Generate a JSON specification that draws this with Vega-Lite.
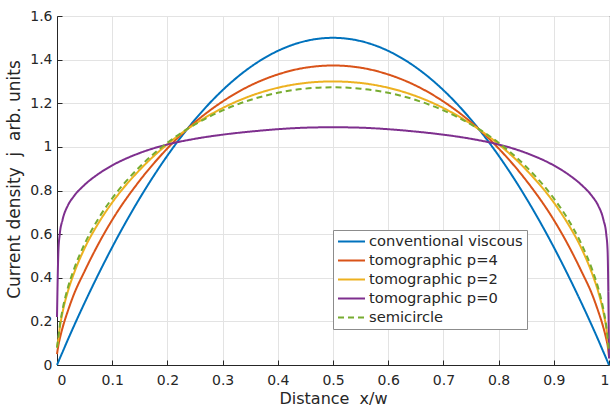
{
  "$schema": "https://vega.github.io/schema/vega-lite/v6.json",
  "width": 552,
  "height": 349,
  "autosize": {"type": "none"},
  "padding": {"left": 57, "top": 16, "right": 2, "bottom": 44},
  "background": "white",
  "config": {
    "font": "DejaVu Sans",
    "view": {"stroke": "#262626", "strokeWidth": 1},
    "axis": {
      "domainColor": "#262626",
      "gridColor": "#e3e3e3",
      "tickColor": "#262626",
      "tickSize": -5,
      "labelColor": "#262626",
      "labelFontSize": 14,
      "titleColor": "#262626",
      "titleFontSize": 16,
      "titleFontWeight": "normal"
    }
  },
  "data": {
    "values": [
      {"x": 0, "a": 0, "b": 0.05, "c": 0.08, "d": 0.22, "e": 0.08},
      {"x": 0.0025, "a": 0.015, "b": 0.09, "c": 0.12, "d": 0.52, "e": 0.127},
      {"x": 0.005, "a": 0.03, "b": 0.12, "c": 0.17, "d": 0.6, "e": 0.18},
      {"x": 0.01, "a": 0.059, "b": 0.17, "c": 0.24, "d": 0.665, "e": 0.253},
      {"x": 0.02, "a": 0.118, "b": 0.25, "c": 0.34, "d": 0.733, "e": 0.357},
      {"x": 0.03, "a": 0.175, "b": 0.32, "c": 0.415, "d": 0.772, "e": 0.434},
      {"x": 0.05, "a": 0.285, "b": 0.43, "c": 0.535, "d": 0.826, "e": 0.555},
      {"x": 0.075, "a": 0.416, "b": 0.555, "c": 0.65, "d": 0.876, "e": 0.671},
      {"x": 0.1, "a": 0.54, "b": 0.665, "c": 0.745, "d": 0.915, "e": 0.764},
      {"x": 0.15, "a": 0.765, "b": 0.846, "c": 0.895, "d": 0.972, "e": 0.909},
      {"x": 0.2, "a": 0.96, "b": 0.993, "c": 1.012, "d": 1.011, "e": 1.019},
      {"x": 0.25, "a": 1.125, "b": 1.113, "c": 1.105, "d": 1.037, "e": 1.103},
      {"x": 0.3, "a": 1.26, "b": 1.208, "c": 1.178, "d": 1.056, "e": 1.167},
      {"x": 0.35, "a": 1.365, "b": 1.281, "c": 1.233, "d": 1.07, "e": 1.215},
      {"x": 0.4, "a": 1.44, "b": 1.332, "c": 1.271, "d": 1.081, "e": 1.248},
      {"x": 0.45, "a": 1.485, "b": 1.363, "c": 1.293, "d": 1.088, "e": 1.267},
      {"x": 0.5, "a": 1.5, "b": 1.373, "c": 1.3, "d": 1.09, "e": 1.273},
      {"x": 0.55, "a": 1.485, "b": 1.363, "c": 1.293, "d": 1.088, "e": 1.267},
      {"x": 0.6, "a": 1.44, "b": 1.332, "c": 1.271, "d": 1.081, "e": 1.248},
      {"x": 0.65, "a": 1.365, "b": 1.281, "c": 1.233, "d": 1.07, "e": 1.215},
      {"x": 0.7, "a": 1.26, "b": 1.208, "c": 1.178, "d": 1.056, "e": 1.167},
      {"x": 0.75, "a": 1.125, "b": 1.113, "c": 1.105, "d": 1.037, "e": 1.103},
      {"x": 0.8, "a": 0.96, "b": 0.993, "c": 1.012, "d": 1.011, "e": 1.019},
      {"x": 0.85, "a": 0.765, "b": 0.846, "c": 0.895, "d": 0.972, "e": 0.909},
      {"x": 0.9, "a": 0.54, "b": 0.665, "c": 0.745, "d": 0.915, "e": 0.764},
      {"x": 0.925, "a": 0.416, "b": 0.555, "c": 0.65, "d": 0.876, "e": 0.671},
      {"x": 0.95, "a": 0.285, "b": 0.43, "c": 0.535, "d": 0.826, "e": 0.555},
      {"x": 0.97, "a": 0.175, "b": 0.32, "c": 0.415, "d": 0.772, "e": 0.434},
      {"x": 0.98, "a": 0.118, "b": 0.25, "c": 0.34, "d": 0.733, "e": 0.357},
      {"x": 0.99, "a": 0.059, "b": 0.17, "c": 0.24, "d": 0.665, "e": 0.253},
      {"x": 0.995, "a": 0.03, "b": 0.12, "c": 0.17, "d": 0.6, "e": 0.18},
      {"x": 0.9975, "a": 0.015, "b": 0.09, "c": 0.12, "d": 0.52, "e": 0.127},
      {"x": 1, "a": 0, "b": 0.04, "c": 0.06, "d": 0.03, "e": 0.06}
    ]
  },
  "transform": [{"fold": ["a", "b", "c", "d", "e"], "as": ["s", "j"]}],
  "mark": {"type": "line", "interpolate": "monotone", "strokeWidth": 2},
  "encoding": {
    "x": {
      "field": "x",
      "type": "quantitative",
      "scale": {"domain": [0, 1], "nice": false},
      "axis": {
        "values": [0, 0.1, 0.2, 0.3, 0.4, 0.5, 0.6, 0.7, 0.8, 0.9, 1],
        "format": "~g",
        "title": "Distance\u00a0\u00a0x/w",
        "labelPadding": 13,
        "titleY": 25,
        "titleBaseline": "top"
      }
    },
    "y": {
      "field": "j",
      "type": "quantitative",
      "scale": {"domain": [0, 1.6], "nice": false},
      "axis": {
        "values": [0, 0.2, 0.4, 0.6, 0.8, 1, 1.2, 1.4, 1.6],
        "format": "~g",
        "title": "Current density\u00a0\u00a0j\u00a0\u00a0arb. units",
        "titleFontSize": 17,
        "labelPadding": 10,
        "titleX": -34,
        "titleY": 163,
        "titleBaseline": "bottom"
      }
    },
    "color": {
      "field": "s",
      "type": "nominal",
      "scale": {
        "domain": ["a", "b", "c", "d", "e"],
        "range": ["#0072BD", "#D95319", "#EDB120", "#7E2F8E", "#77AC30"]
      },
      "legend": {
        "title": null,
        "orient": "none",
        "legendX": 276,
        "legendY": 214,
        "fillColor": "white",
        "strokeColor": "#8c8c8c",
        "padding": 4,
        "symbolType": "stroke",
        "symbolSize": 729,
        "symbolStrokeWidth": 2,
        "labelFontSize": 14.7,
        "labelColor": "#262626",
        "labelOffset": 3,
        "clipHeight": 15,
        "rowPadding": 3,
        "labelExpr": "{'a':'conventional viscous','b':'tomographic p=4','c':'tomographic p=2','d':'tomographic p=0','e':'semicircle'}[datum.label]"
      }
    },
    "strokeDash": {
      "field": "s",
      "type": "nominal",
      "scale": {
        "domain": ["a", "b", "c", "d", "e"],
        "range": [[1, 0], [1, 0], [1, 0], [1, 0], [6, 4]]
      },
      "legend": {
        "title": null,
        "orient": "none",
        "legendX": 276,
        "legendY": 214,
        "fillColor": "white",
        "strokeColor": "#8c8c8c",
        "padding": 4,
        "symbolType": "stroke",
        "symbolSize": 729,
        "symbolStrokeWidth": 2,
        "labelFontSize": 14.7,
        "labelColor": "#262626",
        "labelOffset": 3,
        "clipHeight": 15,
        "rowPadding": 3,
        "labelExpr": "{'a':'conventional viscous','b':'tomographic p=4','c':'tomographic p=2','d':'tomographic p=0','e':'semicircle'}[datum.label]"
      }
    }
  }
}
